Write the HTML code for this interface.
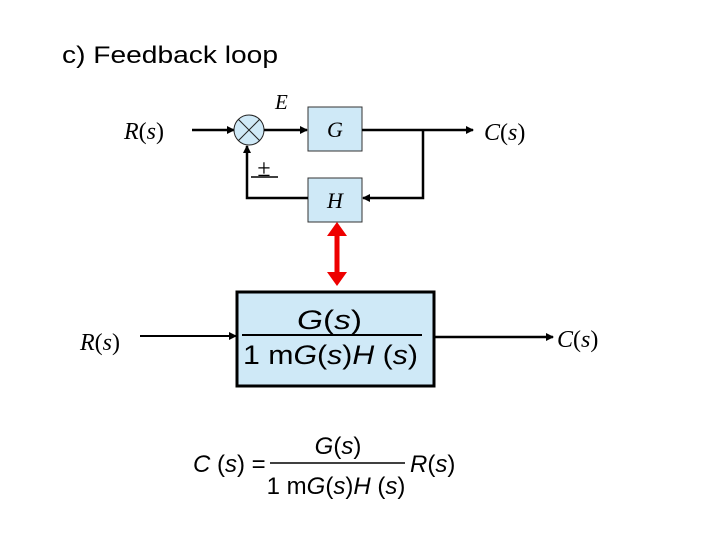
<!DOCTYPE html>
<html><head><style>
body{margin:0;background:#fff;}
svg text{font-family:"Liberation Serif",serif;}
</style></head><body>
<svg width="720" height="540" viewBox="0 0 720 540" xmlns="http://www.w3.org/2000/svg">
<defs>
<marker id="a" markerWidth="8" markerHeight="8" refX="7" refY="4" orient="auto" markerUnits="userSpaceOnUse"><path d="M0,0 L8,4 L0,8 z" fill="#000"/></marker>
</defs>
<text x="62" y="63" font-size="24" style="font-family:'Liberation Sans',sans-serif" textLength="216" lengthAdjust="spacingAndGlyphs">c) Feedback loop</text>
<!-- top diagram -->
<text x="124" y="139" font-size="24"><tspan font-style="italic">R</tspan>(<tspan font-style="italic">s</tspan>)</text>
<line x1="192" y1="130" x2="234" y2="130" stroke="#000" stroke-width="2.5" marker-end="url(#a)"/>
<circle cx="249" cy="130" r="15" fill="#cfe9f7" stroke="#222" stroke-width="1"/>
<line x1="238.4" y1="119.4" x2="259.6" y2="140.6" stroke="#222" stroke-width="1"/>
<line x1="259.6" y1="119.4" x2="238.4" y2="140.6" stroke="#222" stroke-width="1"/>
<text x="275" y="109" font-size="21" font-style="italic">E</text>
<line x1="264" y1="130" x2="307" y2="130" stroke="#000" stroke-width="2.5" marker-end="url(#a)"/>
<rect x="308" y="107" width="54" height="44" fill="#cfe9f7" stroke="#333" stroke-width="1"/>
<text x="335" y="137" font-size="22" font-style="italic" text-anchor="middle">G</text>
<line x1="362" y1="130" x2="473" y2="130" stroke="#000" stroke-width="2.5" marker-end="url(#a)"/>
<text x="484" y="140" font-size="24"><tspan font-style="italic">C</tspan>(<tspan font-style="italic">s</tspan>)</text>
<polyline points="423,130 423,198 363,198" fill="none" stroke="#000" stroke-width="2.5" marker-end="url(#a)"/>
<rect x="308" y="178" width="54" height="44" fill="#cfe9f7" stroke="#333" stroke-width="1"/>
<text x="335" y="208" font-size="22" font-style="italic" text-anchor="middle">H</text>
<polyline points="308,198 247,198 247,146" fill="none" stroke="#000" stroke-width="2.5" marker-end="url(#a)"/>
<text x="264" y="176" font-size="24" text-anchor="middle">±</text>
<line x1="251" y1="177" x2="278" y2="177" stroke="#000" stroke-width="1.5"/>
<!-- red double arrow -->
<line x1="337" y1="232" x2="337" y2="276" stroke="#e00" stroke-width="5"/>
<path d="M337,222 L327,236 L347,236 z" fill="#e00"/>
<path d="M337,286 L327,272 L347,272 z" fill="#e00"/>
<!-- middle -->
<text x="80" y="350" font-size="24"><tspan font-style="italic">R</tspan>(<tspan font-style="italic">s</tspan>)</text>
<line x1="140" y1="336" x2="236" y2="336" stroke="#000" stroke-width="2" marker-end="url(#a)"/>
<rect x="237" y="292" width="197" height="94" fill="#cfe9f7" stroke="#000" stroke-width="3"/>
<text x="297" y="329" font-size="27" style="font-family:'Liberation Sans',sans-serif" textLength="65" lengthAdjust="spacingAndGlyphs"><tspan font-style="italic">G</tspan>(<tspan font-style="italic">s</tspan>)</text>
<line x1="242" y1="335" x2="422" y2="335" stroke="#000" stroke-width="2"/>
<text x="243" y="364" font-size="27" style="font-family:'Liberation Sans',sans-serif" textLength="175" lengthAdjust="spacingAndGlyphs">1 m<tspan font-style="italic">G</tspan>(<tspan font-style="italic">s</tspan>)<tspan font-style="italic">H</tspan> (<tspan font-style="italic">s</tspan>)</text>
<line x1="435" y1="337" x2="553" y2="337" stroke="#000" stroke-width="2.5" marker-end="url(#a)"/>
<text x="557" y="347" font-size="24"><tspan font-style="italic">C</tspan>(<tspan font-style="italic">s</tspan>)</text>
<!-- equation -->
<text x="193" y="472" font-size="24" style="font-family:'Liberation Sans',sans-serif"><tspan font-style="italic">C</tspan> (<tspan font-style="italic">s</tspan>) =</text>
<line x1="270" y1="463" x2="405" y2="463" stroke="#000" stroke-width="1.5"/>
<text x="338" y="454" font-size="24" text-anchor="middle" style="font-family:'Liberation Sans',sans-serif"><tspan font-style="italic">G</tspan>(<tspan font-style="italic">s</tspan>)</text>
<text x="336" y="494" font-size="24" text-anchor="middle" style="font-family:'Liberation Sans',sans-serif">1 m<tspan font-style="italic">G</tspan>(<tspan font-style="italic">s</tspan>)<tspan font-style="italic">H</tspan> (<tspan font-style="italic">s</tspan>)</text>
<text x="410" y="472" font-size="24" style="font-family:'Liberation Sans',sans-serif"><tspan font-style="italic">R</tspan>(<tspan font-style="italic">s</tspan>)</text>
</svg>
</body></html>
